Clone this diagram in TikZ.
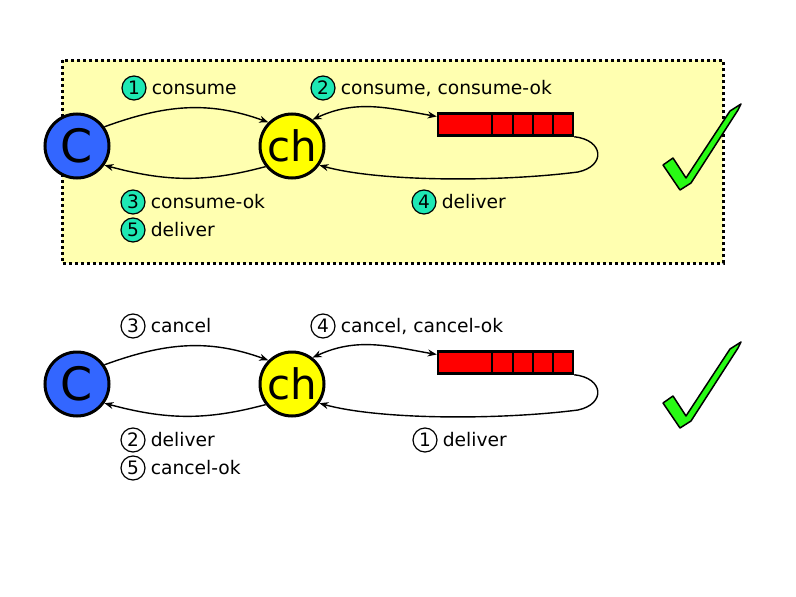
\documentclass[tikz,border=0pt]{standalone}
\usepackage{fontspec}
\setmainfont{DejaVu Sans}
\usetikzlibrary{arrows.meta, positioning}
\definecolor{clientblue}{RGB}{51, 102, 255}
\definecolor{chanyellow}{RGB}{255, 255, 0}
\definecolor{queuered}{RGB}{255, 0, 0}
\definecolor{panelyellow}{RGB}{255, 255, 176}
\definecolor{stepteal}{RGB}{30, 232, 180}
\definecolor{tickgreen}{RGB}{40, 250, 20}

\begin{document}
\begin{tikzpicture}[
    x=1pt, y=1pt,
    agent/.style={circle, draw=black, line width=3pt, minimum size=64pt,
                  inner sep=0pt},
    queue/.style={draw=black, line width=2.5pt, fill=queuered,
                  minimum width=135pt, minimum height=22pt, inner sep=0pt},
    num/.style={circle, draw=black, line width=1.2pt, minimum size=24pt,
                inner sep=0pt, font=\fontsize{18.5}{20}\selectfont,
                text height=13.5pt, text depth=0pt},
    msg/.style={inner sep=2pt, font=\fontsize{18.7}{20}\selectfont,
                text height=13.5pt, text depth=0pt},
    arrow/.style={-{Stealth[length=9pt, width=7pt]}, line width=1.4pt},
    twoway/.style={{Stealth[length=9pt, width=7pt]}-{Stealth[length=9pt, width=7pt]},
                   line width=1.4pt},
    panel/.style={fill=panelyellow, draw=black, line width=3pt,
                  dash pattern=on 3pt off 3pt},
    tick/.style={fill=tickgreen, draw=black, line width=1.5pt, line join=round}
]
    \useasboundingbox (0,0) rectangle (796,-597);

    % consume
    \draw[panel] (62,-60) rectangle (723,-263);
    \node[agent, fill=clientblue, font=\fontsize{46}{46}\selectfont] (client) at (77,-146) {C};
    \node[agent, fill=chanyellow, font=\fontsize{42}{42}\selectfont] (chan) at (292,-146) {ch};
    \node[queue] (queue) at (505.5,-124.5) {};
    \foreach \x in {55,76,96,116}
        \draw[line width=2pt] ([xshift=\x pt]queue.north west) -- ([xshift=\x pt]queue.south west);

    \draw[arrow] (client.35) to[out=20, in=160] (chan.135);
    \draw[arrow] (chan.218) to[out=195, in=-15] (client.-35);
    \draw[twoway] (chan.52) to[out=25, in=170] ([yshift=8pt]queue.west);
    \draw[arrow] (queue.south east) .. controls (604,-140) and (606,-166) .. (578,-172)
        .. controls (500,-182) and (380,-182) .. (chan.-35);

    \node[num, fill=stepteal] (s1) at (134,-88) {1};
    \node[msg, right=3pt of s1] {consume};
    \node[num, fill=stepteal] (s2) at (323,-88) {2};
    \node[msg, right=3pt of s2] {consume, consume-ok};
    \node[num, fill=stepteal] (s3) at (133,-202) {3};
    \node[msg, right=3pt of s3] {consume-ok};
    \node[num, fill=stepteal] (s5) at (133,-230) {5};
    \node[msg, right=3pt of s5] {deliver};
    \node[num, fill=stepteal] (s4) at (424,-202) {4};
    \node[msg, right=3pt of s4] {deliver};

    \draw[tick] (663,-165) -- (673,-158) -- (686,-178) -- (730,-111) -- (741,-104)
        -- (738,-110) -- (691,-183) -- (680,-190) -- cycle;

    % cancel
    \node[agent, fill=clientblue, font=\fontsize{46}{46}\selectfont] (clientb) at (77,-384) {C};
    \node[agent, fill=chanyellow, font=\fontsize{42}{42}\selectfont] (chanb) at (292,-384) {ch};
    \node[queue] (queueb) at (505.5,-362.5) {};
    \foreach \x in {55,76,96,116}
        \draw[line width=2pt] ([xshift=\x pt]queueb.north west) -- ([xshift=\x pt]queueb.south west);

    \draw[arrow] (clientb.35) to[out=20, in=160] (chanb.135);
    \draw[arrow] (chanb.218) to[out=195, in=-15] (clientb.-35);
    \draw[twoway] (chanb.52) to[out=25, in=170] ([yshift=8pt]queueb.west);
    \draw[arrow] (queueb.south east) .. controls (604,-378) and (606,-404) .. (578,-410)
        .. controls (500,-420) and (380,-420) .. (chanb.-35);

    \node[num] (t3) at (133,-326) {3};
    \node[msg, right=3pt of t3] {cancel};
    \node[num] (t4) at (323,-326) {4};
    \node[msg, right=3pt of t4] {cancel, cancel-ok};
    \node[num] (t2) at (133,-440) {2};
    \node[msg, right=3pt of t2] {deliver};
    \node[num] (t5) at (133,-468) {5};
    \node[msg, right=3pt of t5] {cancel-ok};
    \node[num] (t1) at (425,-440) {1};
    \node[msg, right=3pt of t1] {deliver};

    \draw[tick] (663,-403) -- (673,-396) -- (686,-416) -- (730,-349) -- (741,-342)
        -- (738,-348) -- (691,-421) -- (680,-428) -- cycle;
\end{tikzpicture}
\end{document}
